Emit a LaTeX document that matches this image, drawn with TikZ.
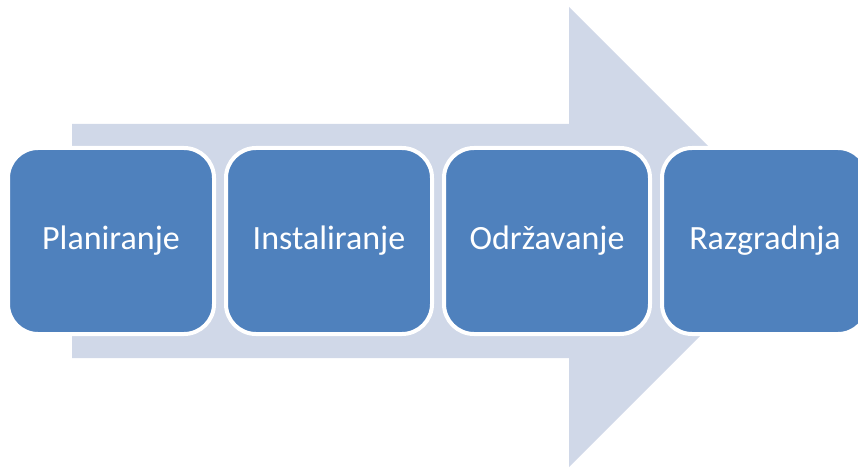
\documentclass[tikz,border=0pt]{standalone}
\usepackage{fontspec}
\setmainfont{Carlito}
\usetikzlibrary{positioning}
\definecolor{stageblue}{HTML}{4F81BD}
\definecolor{flowgray}{HTML}{D0D8E8}

\begin{document}
\begin{tikzpicture}[x=1pt, y=-1pt,
    stage/.style={fill=stageblue, draw=white, line width=4pt, rounded corners=30pt,
      minimum width=206pt, minimum height=186pt, text=white, font=\fontsize{34}{40}\selectfont}]
  \useasboundingbox (0,0) rectangle (858,473);
  \fill[flowgray] (72,124) -- (569,124) -- (569,7) -- (799,237) -- (569,467)
    -- (569,358) -- (72,358) -- cycle;
  \node[stage] (plan) at (111,241) {Planiranje};
  \node[stage, right=8pt of plan] (inst) {Instaliranje};
  \node[stage, right=8pt of inst] (odrz) {Održavanje};
  \node[stage, right=8pt of odrz] (razg) {Razgradnja};
\end{tikzpicture}
\end{document}
